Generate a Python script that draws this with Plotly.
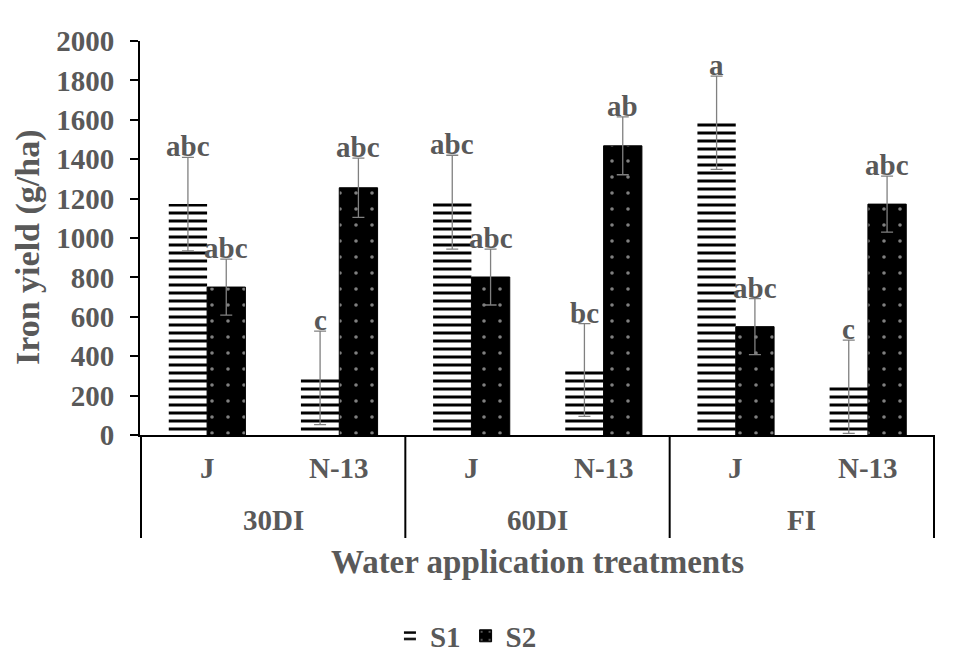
import plotly.graph_objects as go

treatments = ["30DI", "30DI", "60DI", "60DI", "FI", "FI"]
varieties = ["J", "N-13", "J", "N-13", "J", "N-13"]
treatment_names = ["30DI", "60DI", "FI"]
s1_values = [1172, 290, 1182, 330, 1585, 245]
s1_errors = [237, 237, 238, 235, 237, 237]
s2_values = [751, 1255, 802, 1468, 550, 1172]
s2_errors = [142, 150, 142, 147, 142, 142]
s1_letters = ["abc", "c", "abc", "bc", "a", "c"]
s2_letters = ["abc", "abc", "abc", "ab", "abc", "abc"]
y_ticks = [0, 200, 400, 600, 800, 1000, 1200, 1400, 1600, 1800, 2000]

FONT = "Liberation Serif"
GRAY = "#595959"
BARGAP = 0.42
PLOT_H = 394.0
PLOT_W = 795.0

fig = go.Figure()
fig.add_trace(go.Bar(
    name="S1", x=[treatments, varieties], y=s1_values,
    marker=dict(color="white", line=dict(width=0),
                pattern=dict(shape="-", fgcolor="black", bgcolor="white", size=8,
                             solidity=0.375, fgopacity=1)),
    error_y=dict(type="data", array=s1_errors, color="#808080", thickness=1.3, width=6),
))
fig.add_trace(go.Bar(
    name="S2", x=[treatments, varieties], y=s2_values,
    marker=dict(color="black", line=dict(width=1, color="black"),
                pattern=dict(shape=".", fgcolor="white", bgcolor="black", size=16, solidity=0.04)),
    error_y=dict(type="data", array=s2_errors, color="#808080", thickness=1.3, width=6),
))

label_font = dict(family=FONT, size=29, color=GRAY, weight="bold")

half = (1 - BARGAP) / 4
for i in range(len(varieties)):
    for vals, errs, letters, off in ((s1_values, s1_errors, s1_letters, -half),
                                      (s2_values, s2_errors, s2_letters, half)):
        fig.add_annotation(x=i + off, y=vals[i] + errs[i], text=letters[i],
                           showarrow=False, yanchor="bottom", yshift=-7, font=label_font)

# category labels (inner level) and treatment labels (outer level)
for i, v in enumerate(varieties):
    fig.add_annotation(x=i, xref="x", y=-33 / PLOT_H, yref="paper", text=v,
                       showarrow=False, yanchor="middle", font=label_font)
n_sub = len(varieties) // len(treatment_names)
for g, t in enumerate(treatment_names):
    fig.add_annotation(x=g * n_sub + (n_sub - 1) / 2, xref="x", y=-85 / PLOT_H, yref="paper",
                       text=t, showarrow=False, yanchor="middle", font=label_font)
for g in range(len(treatment_names) + 1):
    xb = g * n_sub - 0.5
    fig.add_shape(type="line", x0=xb, x1=xb, xref="x", y0=0, y1=-103 / PLOT_H, yref="paper",
                  line=dict(color="black", width=2))

# y-axis title
fig.add_annotation(x=-112 / PLOT_W, xref="paper", y=(394 - 206) / PLOT_H, yref="paper",
                   text="Iron yield (g/ha)", textangle=-90, showarrow=False,
                   xanchor="center", yanchor="middle",
                   font=dict(family=FONT, size=34, color=GRAY, weight="bold"))

fig.update_layout(
    width=955, height=672,
    margin=dict(l=132, r=28, t=33, b=245),
    paper_bgcolor="white", plot_bgcolor="white",
    barmode="group", bargap=BARGAP, bargroupgap=0,
    font=dict(family=FONT, color=GRAY, size=29, weight="bold"),
    showlegend=True,
    legend=dict(orientation="h", x=0.41, xanchor="center", y=-0.51, yanchor="middle",
                font=label_font, itemwidth=30, tracegroupgap=0),
    xaxis=dict(
        type="multicategory",
        showline=True, linecolor="black", linewidth=2,
        showdividers=False, showticklabels=False, ticks="",
        title=dict(text="Water application treatments", standoff=114,
                   font=dict(family=FONT, size=33, color=GRAY, weight="bold")),
        showgrid=False, automargin=False,
    ),
    yaxis=dict(
        range=[0, 2000], tickvals=y_ticks,
        showline=True, linecolor="black", linewidth=2,
        ticks="outside", ticklen=8, tickwidth=2, tickcolor="black",
        ticklabelstandoff=10,
        tickfont=label_font,
        showgrid=False, zeroline=False,
        automargin=False,
    ),
)

fig.write_html("out.html")
